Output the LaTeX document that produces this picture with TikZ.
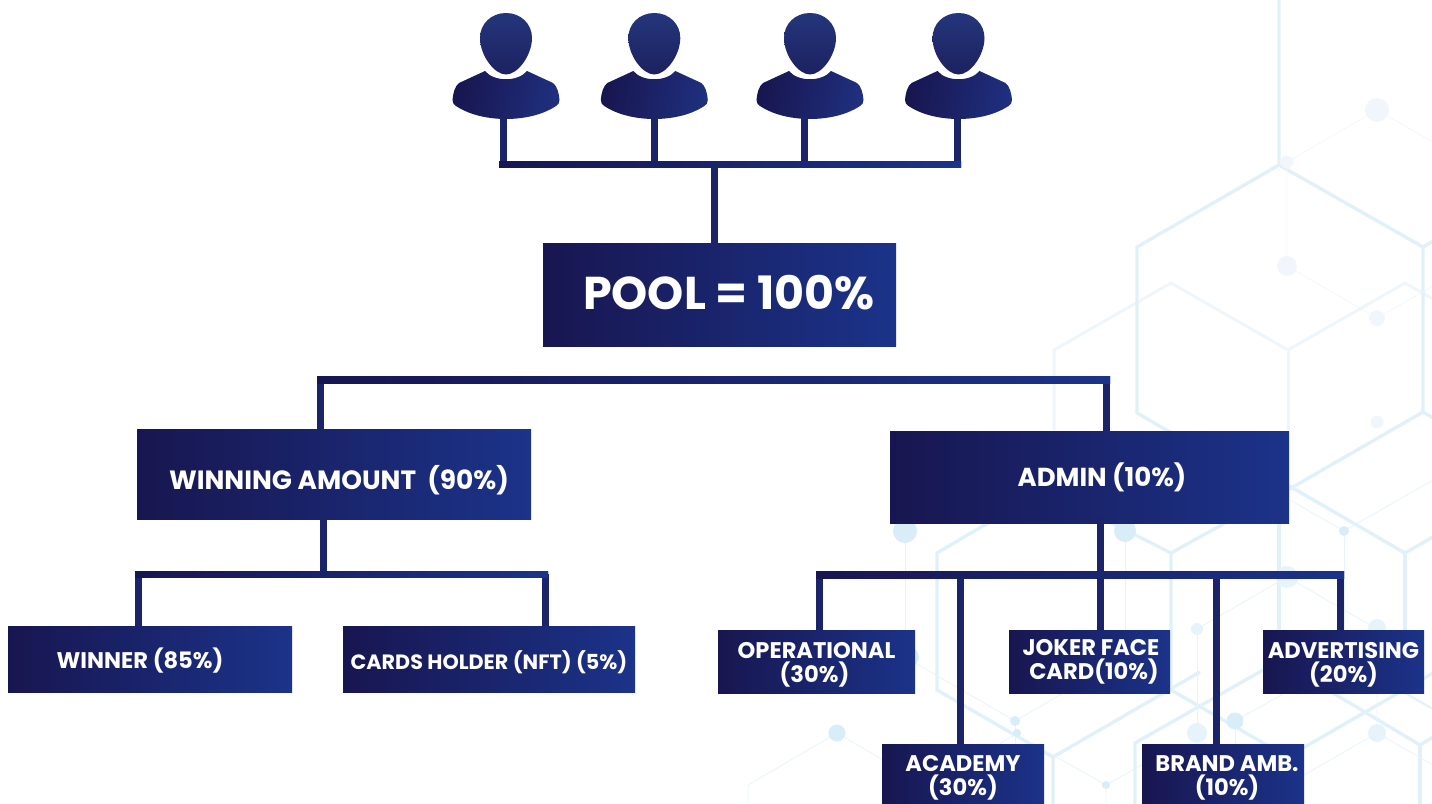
\documentclass[tikz,border=0pt]{standalone}
\usepackage{fontspec}
\setmainfont{Poppins}
\definecolor{navyL}{HTML}{181650}
\definecolor{navyR}{HTML}{1B3389}
\definecolor{navyM}{HTML}{1B2468}
\definecolor{headT}{HTML}{24367B}
\definecolor{headB}{HTML}{1C2160}
\definecolor{bodyR}{HTML}{1F2F7E}
\definecolor{hexA}{HTML}{E1F1FA}
\definecolor{hexB}{HTML}{EFF6FB}
\definecolor{hexThin}{HTML}{E6F3FB}
\definecolor{hexDot}{HTML}{D8EDF8}
\definecolor{hexPale}{HTML}{F0F6FB}
\newcommand{\nudge}[2]{\raisebox{#1}[\height][\depth]{#2}}
\tikzset{
    box/.style={left color=navyL, right color=navyR, text=white, inner sep=0pt, outer sep=0pt, align=center},
    sub/.style={box, font=\fontsize{22.6}{24}\selectfont\bfseries},
    bus/.style={left color=navyL, right color=navyR, inner sep=0pt, outer sep=0pt},
    link/.style={navyM, line width=7pt},
    hexline/.style={hexA, line width=3.4pt},
    hexfaint/.style={hexB, line width=3pt},
    hexthin/.style={hexThin, line width=.8pt},
    person/.pic={
        \path[bottom color=headB, top color=headT]
            (0,13) .. controls (15,13) and (26,24) .. (26,38)
            .. controls (26,55) and (12,74.5) .. (0,74.5)
            .. controls (-12,74.5) and (-26,55) .. (-26,38)
            .. controls (-26,24) and (-15,13) .. (0,13) -- cycle;
        \path[left color=navyL, right color=bodyR, shading angle=80]
            (-21,71) .. controls (-12,82) and (12,82) .. (21,71) -- (47,83)
            .. controls (51,86) and (53,93) .. (53.5,100)
            .. controls (53.5,103) and (52,105) .. (50,106)
            .. controls (35,116) and (15,119) .. (0,119)
            .. controls (-15,119) and (-35,116) .. (-50,106)
            .. controls (-52,105) and (-53.5,103) .. (-53.5,100)
            .. controls (-53,93) and (-51,86) .. (-47,83) -- cycle;
    }
}
\begin{document}
\begin{tikzpicture}[x=1pt,y=-1pt]
    \useasboundingbox (0,0) rectangle (1432,803);
    \clip (0,0) rectangle (1432,803);

    % background
    \draw[hexfaint] (1054,430) -- (1054,350) -- (1171,283) -- (1288,350) -- (1405,283) -- (1440,303);
    \draw[hexfaint] (1288,350) -- (1288,430);
    \draw[hexline] (1279,0) -- (1279,165) -- (1423,247) -- (1423,412) -- (1279,495) -- (1137,413) -- (1137,247) -- (1279,165);
    \draw[hexline] (1423,247) -- (1440,237);
    \draw[hexline] (1423,412) -- (1440,422);
    \draw[hexline] (1279,495) -- (1279,640);
    \draw[hexline] (1279,480) -- (1405,553) -- (1440,533);
    \draw[hexline] (1405,553) -- (1405,640);
    \draw[hexline] (993,520) -- (937,553) -- (937,690) -- (1053,757) -- (1053,810);
    \draw[hexline] (1053,757) -- (1200,672);
    \draw[hexline] (1110,522) -- (1171,553) -- (1225,523);
    \draw[hexline] (1171,553) -- (1171,690) -- (1272,748);
    \draw[hexline] (1135,810) -- (1135,743) -- (1263,670);
    \draw[hexline] (1303,748) -- (1440,669);
    \draw[hexline] (1333,693) -- (1420,745) -- (1440,733);
    \draw[hexline] (1420,745) -- (1420,810);
    \draw[hexA, line width=2pt] (1405,693) -- (1440,713);

    \draw[hexPale, line width=.7pt] (1287,162) -- (1377,110) -- (1440,146);
    \draw[hexPale, line width=.7pt] (1287,162) -- (1287,266) -- (1377,318) -- (1440,282);
    \draw[hexthin] (905,531) -- (905,640);
    \draw[hexthin] (1125,531) -- (1125,640);
    \draw[hexthin] (910,660) -- (1015,721) -- (1110,666);
    \draw[hexthin] (1015,721) -- (1015,750);
    \draw[hexthin] (998,745) -- (1017,733);
    \draw[hexthin] (1290,500) -- (1344,531) -- (1440,476);
    \draw[hexthin] (1344,531) -- (1344,640);
    \draw[hexthin] (1197,629) -- (1287,577) -- (1377,629) -- (1377,733);
    \draw[hexthin] (1197,629) -- (1197,733);
    \draw[hexthin] (1235,721) -- (1235,750);
    \draw[hexthin] (1235,721) -- (1290,690);
    \draw[hexthin] (1304,775) -- (1377,733) -- (1440,769);
    \draw[hexthin] (748,810) -- (748,785) -- (837,733) -- (890,764);
    \draw[hexthin] (1053,755) -- (1106,785) -- (1106,810);
    \draw[hexthin] (1106,785) -- (1145,763);

    \fill[hexPale] (1377,110) circle (12);
    \fill[hexPale] (1287,162) circle (6.5);
    \fill[hexPale] (1287,266) circle (10);
    \fill[hexPale] (1377,318) circle (8);
    \fill[hexPale] (1377,422) circle (6.5);
    \fill[hexDot] (905,531) circle (12);
    \fill[hexDot] (910,657) circle (9);
    \fill[hexDot] (1125,531) circle (11);
    \fill[hexPale!70!hexDot] (1287,577) circle (11);
    \fill[hexDot] (1344,531) circle (5);
    \fill[hexDot] (837,733) circle (8.5);
    \fill[hexDot] (1015,721) circle (5);
    \fill[hexDot] (1017,733) circle (4);
    \fill[hexThin] (1197,629) circle (6);
    \fill[hexThin] (1197,733) circle (10);
    \fill[hexDot] (1235,721) circle (8.5);
    \fill[hexThin] (1377,628) circle (9);
    \fill[hexThin] (1377,733) circle (9);
    \fill[hexDot] (1106,785) circle (4);

    % people
    \foreach \px in {506,654.3,810,958.5}
        \pic at (\px,0) {person};
    \coordinate (person1) at (503,116);
    \coordinate (person2) at (654,116);
    \coordinate (person3) at (804,116);
    \coordinate (person4) at (957,116);

    % boxes
    \node[box, font=\fontsize{46}{50}\selectfont\bfseries, minimum width=353pt, minimum height=103pt] (pool) at (719.5,294.5) {\hspace{19pt}\nudge{2pt}{POOL = 100\%}};
    \node[box, font=\fontsize{26.4}{30}\selectfont\bfseries, minimum width=394pt, minimum height=90pt] (winning) at (334,474) {\hspace{10pt}\nudge{-6pt}{WINNING AMOUNT\ \ (90\%)}};
    \node[box, font=\fontsize{26}{30}\selectfont\bfseries, minimum width=399pt, minimum height=92pt] (admin) at (1089.5,477) {\hspace{25pt}ADMIN (10\%)};
    \node[sub, minimum width=284pt, minimum height=66pt] (winner) at (150,659) {\nudge{-2pt}{WINNER (85\%)}\hspace{20pt}};
    \node[sub, font=\fontsize{20.7}{24}\selectfont\bfseries, minimum width=292pt, minimum height=66pt] (cards) at (489,659) {\nudge{-3pt}{CARDS HOLDER (NFT) (5\%)}};
    \node[sub, minimum width=197pt, minimum height=63pt] (operational) at (816.5,661.5) {\nudge{-3pt}{OPERATIONAL}\\\nudge{-3pt}{(30\%)\hspace{4pt}}};
    \node[sub, minimum width=161pt, minimum height=63pt] (joker) at (1089.5,661.5) {\hspace{3pt}JOKER FACE\\\hspace{9pt}CARD(10\%)};
    \node[sub, minimum width=161pt, minimum height=63pt] (advertising) at (1343.5,661.5) {\nudge{-3pt}{ADVERTISING}\hspace{3pt}\\\nudge{-3pt}{(20\%)}\hspace{7pt}};
    \node[sub, minimum width=162pt, minimum height=66pt] (academy) at (963,777) {\nudge{-1pt}{ACADEMY}\\\nudge{-1pt}{(30\%)}};
    \node[sub, minimum width=162pt, minimum height=66pt] (brand) at (1223,777) {\hspace{8pt}\nudge{-1pt}{BRAND AMB.}\\\hspace{8pt}\nudge{-1pt}{(10\%)}};

    \fill[white] (1217,706) circle (1.5);

    % connectors
    \coordinate (dropPool) at (714,243);
    \coordinate (dropWinning) at (320,429);
    \coordinate (dropAdmin) at (1106,431);
    \coordinate (riseWinning) at (323,519);
    \coordinate (dropWinner) at (138,626);
    \coordinate (dropCards) at (545,626);
    \coordinate (riseAdmin) at (1100.6,517);
    \coordinate (dropOperational) at (819,630);
    \coordinate (dropAcademy) at (960,744);
    \coordinate (dropJoker) at (1100.6,630);
    \coordinate (dropBrand) at (1216,744);
    \coordinate (dropAdvertising) at (1340,630);

    \foreach \n/\b/\bx/\by/\bw/\bh in {person1/busPeople/730/164/462/6, dropWinning/busPool/713.5/379.5/793/7, riseWinning/busWinning/341.5/574/413/6, riseAdmin/busAdmin/1080/574.5/528/7}
        \node[bus, minimum width=\bw pt, minimum height=\bh pt] (\b) at (\bx,\by) {};

    \foreach \n in {person1,person2,person3,person4,dropPool}
        \draw[link] (\n) -- (\n |- busPeople);
    \foreach \n in {dropWinning,dropAdmin}
        \draw[link] (\n) -- (\n |- busPool);
    \foreach \n in {riseWinning,dropWinner,dropCards}
        \draw[link] (\n) -- (\n |- busWinning);
    \foreach \n in {riseAdmin,dropOperational,dropAcademy,dropJoker,dropBrand,dropAdvertising}
        \draw[link] (\n) -- (\n |- busAdmin);

    % bars again, over the link ends
    \foreach \b/\bw/\bh in {busPeople/462/6, busPool/793/7, busWinning/413/6, busAdmin/528/7}
        \node[bus, minimum width=\bw pt, minimum height=\bh pt] at (\b) {};
\end{tikzpicture}
\end{document}
